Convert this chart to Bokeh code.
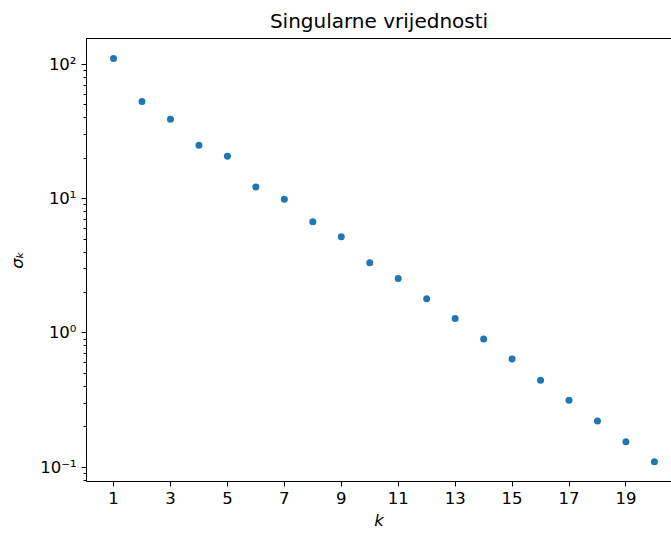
from bokeh.plotting import figure
from bokeh.models import FixedTicker, LinearAxis, CustomJSTickFormatter, Range1d
from bokeh.embed import file_html
from bokeh.resources import INLINE

k = list(range(1, 21))
sigma = [110.8, 53.0, 39.0, 25.0, 20.7, 12.2, 9.9, 6.74, 5.2, 3.34,
         2.54, 1.80, 1.28, 0.90, 0.64, 0.445, 0.316, 0.221, 0.155, 0.110]
x_ticks = [1, 3, 5, 7, 9, 11, 13, 15, 17, 19]
y_ticks = [0.1, 1, 10, 100]
minor = [m * d for d in [0.01, 0.1, 1, 10, 100] for m in range(2, 10)]

FONT = "DejaVu Sans"

p = figure(width=671, height=534, output_backend="svg", toolbar_location=None,
           y_axis_type="log", x_range=Range1d(0.05, 20.6), y_range=Range1d(0.0783, 156),
           title="Singularne vrijednosti",
           min_border_left=86, min_border_right=0, min_border_bottom=53, min_border_top=4)

p.title.text_font = FONT
p.title.text_font_size = "20px"
p.title.text_font_style = "normal"
p.title.text_color = "black"
p.title.align = "center"
p.title.offset = 10
p.title.standoff = 12
p.outline_line_color = None
p.grid.visible = False
p.background_fill_color = "white"
p.border_fill_color = "white"

p.scatter(k, sigma, size=7, color="#1f77b4", line_color=None)

xa = p.xaxis[0]
xa.ticker = FixedTicker(ticks=x_ticks)
xa.axis_label = "k"
ya = p.yaxis[0]
ya.ticker = FixedTicker(ticks=y_ticks, minor_ticks=minor)
ya.formatter = CustomJSTickFormatter(code="""
const sup = {'-':'\u207b','0':'\u2070','1':'\u00b9','2':'\u00b2','3':'\u00b3','4':'\u2074','5':'\u2075','6':'\u2076','7':'\u2077','8':'\u2078','9':'\u2079'};
const e = Math.round(Math.log10(tick)).toString();
return '10' + e.split('').map(c => sup[c]).join('');
""")
ya.axis_label = "\u03c3\u2096"

for ax in [xa, ya]:
    ax.axis_line_color = "black"
    ax.axis_line_width = 1
    ax.major_tick_line_color = "black"
    ax.major_tick_in = 0
    ax.major_tick_out = 5
    ax.minor_tick_line_color = "black"
    ax.minor_tick_in = 0
    ax.minor_tick_out = 3
    ax.major_label_text_font = FONT
    ax.major_label_text_font_size = "16.5px"
    ax.major_label_text_color = "black"
    ax.axis_label_text_font = FONT
    ax.axis_label_text_font_size = "16.5px"
    ax.axis_label_text_font_style = "italic"
    ax.axis_label_text_color = "black"
xa.minor_tick_line_color = None
xa.major_label_standoff = 5
ya.major_label_standoff = 5
xa.axis_label_standoff = 4
ya.axis_label_standoff = 10

top = LinearAxis(ticker=FixedTicker(ticks=[]), major_label_text_font_size="0px",
                 major_tick_line_color=None, minor_tick_line_color=None,
                 axis_line_color="black", axis_line_width=1)
p.add_layout(top, "above")

open("out.html", "w").write(file_html(p, INLINE))
